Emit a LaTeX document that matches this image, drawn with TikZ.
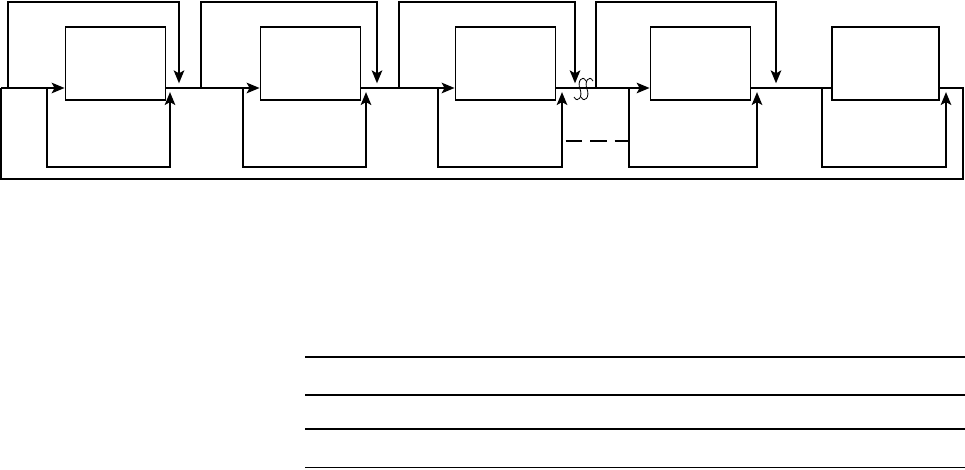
\documentclass[tikz,border=0pt]{standalone}
\usepackage{tikz}
\usetikzlibrary{positioning,arrows.meta,calc}

\begin{document}
\begin{tikzpicture}[x=0.03cm,y=-0.03cm,
    blk/.style={draw,line width=1.6pt,minimum width=3cm,minimum height=2.2cm,inner sep=0pt},
    wire/.style={line width=1.6pt},
    arr/.style={wire,-{Stealth[length=11pt,width=9pt,inset=2.5pt]}},
    brk/.style={line width=0.7pt},
    rule/.style={line width=1.1pt}]
  \useasboundingbox (0,0) rectangle (965,469);

  % ── Blocks ──
  \node[blk] (b1) at (115.5,63.75) {};
  \node[blk] (b2) at (310.5,63.75) {};
  \node[blk] (b3) at (505.5,63.75) {};
  \node[blk] (b4) at (700.5,63.75) {};
  \node[blk,minimum width=3.2cm] (b5) at (885.5,63.75) {};

  % ── Points on the main line ──
  \foreach \n/\x in {1/179,2/377,3/575,4/776} \coordinate (j\n) at (\x,88);
  \foreach \n/\x in {1/8,2/201,3/399,4/596} \coordinate (s\n) at (\x,88);
  \foreach \n/\x/\r in {1/47/170,2/243/366,3/438/562,4/629/757,5/822/946} {
    \coordinate (p\n) at (\x,88);
    \coordinate (q\n) at (\r,88);
  }
  \coordinate (ol) at (1,88);
  \coordinate (or) at (963,88);

  % ── Main line ──
  \draw[arr] (ol) -- (b1.west |- ol);
  \draw[arr] (b1.east |- ol) -- (b2.west |- ol);
  \draw[arr] (b2.east |- ol) -- (b3.west |- ol);
  \draw[arr] (b3.east |- ol) -- (b4.west |- ol);
  \draw[wire] (b4.east |- ol) -- (b5.west |- ol);

  % ── Outer return ──
  \draw[wire] (b5.east |- or) -- (or) -- (or |- 0,179) -- (ol |- 0,179) -- (ol);

  % ── Forward bypass loops ──
  \foreach \n in {1,2,3,4}
    \draw[arr,shorten >=4pt] (s\n) -- (s\n |- 0,2) -| (j\n);

  % ── Inner loops ──
  \foreach \n in {1,...,5}
    \draw[arr,shorten >=3.5pt] (p\n) -- (p\n |- 0,167) -| (q\n);

  % ── Dashed link ──
  \coordinate (d3) at (q3 |- 0,141);
  \coordinate (d4) at (p4 |- 0,141);
  \draw[wire,dash pattern=on 14pt off 7pt,dash phase=18pt] (d3) -- (d4);

  % ── Break mark ──
  \foreach \c in {580,587}
    \draw[brk] (\c+6,81) .. controls (\c+2,74) and (\c-3,82) .. (\c,89)
               .. controls (\c+3,96) and (\c-2,104) .. (\c-6,97);

  % ── Rules ──
  \draw[rule] (305,357) -- (965,357);
  \draw[rule] (305,395) -- (965,395);
  \draw[rule,line width=2.5pt] (305,429) -- (965,429);
  \draw[rule] (305,467.5) -- (965,467.5);
\end{tikzpicture}
\end{document}
